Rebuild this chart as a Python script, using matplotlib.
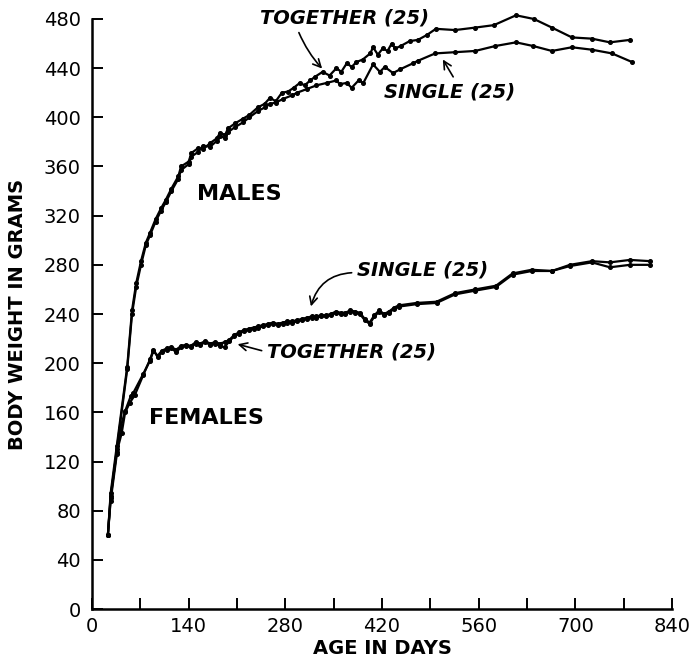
import matplotlib.pyplot as plt
from matplotlib.ticker import MultipleLocator

# body weight (grams) against age (days), four groups of 25 animals
male_together_days = [23, 27, 36, 51, 58, 64, 71, 78, 84, 92, 100, 107, 115, 125, 129, 140,
                      144, 154, 161, 171, 181, 185, 193, 197, 207, 219, 228, 240, 250, 258,
                      266, 275, 284, 292, 301, 308, 316, 323, 334, 344, 354, 361, 369, 376,
                      383, 392, 403, 407, 414, 421, 428, 434, 439, 447, 460, 472, 485, 498,
                      526, 555, 582, 614, 640, 666, 695, 724, 750, 779]
male_together_wt = [60, 94, 133, 197, 243, 265, 283, 298, 306, 317, 326, 333, 342, 352, 360, 364,
                    371, 375, 374, 379, 383, 387, 386, 391, 395, 399, 402, 408, 411, 416,
                    413, 420, 421, 424, 428, 426, 430, 433, 437, 434, 440, 437, 444, 441,
                    445, 447, 452, 457, 451, 456, 454, 460, 456, 458, 462, 463, 467, 472,
                    471, 473, 475, 483, 480, 473, 465, 464, 461, 463]

male_single_days = [23, 27, 36, 51, 58, 64, 71, 78, 84, 92, 100, 107, 115, 125, 129, 140,
                    144, 154, 161, 171, 181, 185, 193, 197, 207, 219, 228, 240, 250, 258,
                    266, 277, 290, 297, 311, 325, 340, 354, 359, 369, 376, 386, 393, 407,
                    417, 424, 436, 446, 465, 472, 497, 526, 555, 584, 614, 639, 666, 695,
                    724, 753, 782]
male_single_wt = [60, 90, 130, 195, 240, 262, 280, 296, 304, 315, 324, 331, 340, 350, 357, 362,
                  368, 372, 377, 376, 381, 385, 383, 388, 392, 396, 400, 405, 408, 411,
                  412, 415, 418, 420, 423, 426, 428, 430, 427, 428, 424, 430, 428, 443,
                  437, 441, 436, 439, 444, 446, 452, 453, 454, 458, 461, 458, 454, 457,
                  455, 452, 445]

female_together_days = [23, 27, 36, 43, 48, 55, 62, 74, 84, 89, 95, 101, 108, 115, 122, 129,
                        136, 143, 150, 157, 164, 171, 178, 185, 192, 199, 206, 213, 220, 227,
                        234, 241, 248, 255, 262, 269, 276, 283, 290, 297, 304, 311, 318, 325,
                        332, 339, 346, 353, 360, 367, 374, 381, 388, 395, 402, 409, 416, 423,
                        430, 437, 444, 470, 499, 526, 555, 585, 609, 637, 666, 692, 724, 750,
                        779, 808]
female_together_wt = [60, 92, 128, 143, 160, 168, 174, 190, 203, 211, 205, 209, 211, 212, 209, 213,
                      214, 213, 216, 215, 217, 215, 216, 214, 213, 218, 222, 224, 226, 227,
                      228, 229, 230, 231, 232, 231, 232, 233, 233, 234, 235, 236, 237, 237,
                      238, 238, 239, 241, 240, 240, 242, 241, 240, 235, 232, 238, 242, 239,
                      241, 244, 246, 248, 249, 256, 259, 262, 272, 275, 275, 279, 282, 278,
                      280, 280]

female_single_days = [23, 27, 36, 41, 48, 56, 60, 74, 84, 89, 95, 101, 108, 115, 122, 129,
                      136, 143, 150, 157, 164, 171, 178, 185, 192, 199, 206, 213, 220, 227,
                      234, 241, 248, 255, 262, 269, 276, 283, 290, 297, 304, 311, 318, 325,
                      332, 339, 346, 353, 360, 367, 374, 381, 388, 395, 402, 409, 416, 423,
                      430, 437, 444, 470, 499, 526, 555, 585, 609, 637, 666, 692, 724, 750,
                      779, 808]
female_single_wt = [60, 88, 126, 147, 161, 173, 176, 191, 202, 210, 206, 210, 212, 213, 211, 214,
                    215, 214, 217, 216, 218, 216, 217, 216, 217, 219, 223, 225, 227, 228,
                    229, 230, 231, 232, 233, 232, 233, 234, 234, 235, 236, 237, 238, 238,
                    239, 239, 240, 242, 241, 241, 243, 242, 241, 236, 233, 239, 243, 240,
                    242, 245, 247, 249, 250, 257, 260, 263, 273, 276, 275, 280, 283, 282,
                    284, 283]

x_ticks = [0, 140, 280, 420, 560, 700, 840]
y_ticks = list(range(0, 481, 40))

fig = plt.figure(figsize=(6.9, 6.64), dpi=100)
ax = fig.add_axes([0.1333, 0.0828, 0.8407, 0.8886])

style = dict(color="black", lw=1.6, marker="o", ms=2.6, clip_on=False)
ax.plot(male_together_days, male_together_wt, **style)
ax.plot(male_single_days, male_single_wt, **style)
ax.plot(female_together_days, female_together_wt, **style)
ax.plot(female_single_days, female_single_wt, **style)

ax.set_xlim(0, 840)
ax.set_ylim(0, 480)
ax.set_xticks(x_ticks)
ax.set_yticks(y_ticks)
ax.xaxis.set_minor_locator(MultipleLocator(70))
ax.tick_params(which="both", direction="in", length=8, width=1.4, labelsize=14, pad=6)
ax.tick_params(axis="y", pad=8)
for side in ("top", "right"):
    ax.spines[side].set_visible(False)
for side in ("left", "bottom"):
    ax.spines[side].set_linewidth(1.8)

ax.set_xlabel("AGE IN DAYS", fontsize=14, fontweight="bold", labelpad=2)
ax.set_ylabel("BODY WEIGHT IN GRAMS", fontsize=14, fontweight="bold", labelpad=12)

lab = dict(fontsize=14, fontweight="bold", fontstyle="italic", ha="center", va="center")
arrow = dict(arrowstyle="->", color="black", lw=1.2, mutation_scale=14)

ax.text(214, 338, "MALES", fontsize=16, fontweight="bold", ha="center", va="center")
ax.text(166, 155, "FEMALES", fontsize=16, fontweight="bold", ha="center", va="center")

ax.annotate("TOGETHER (25)", xy=(336, 438), xytext=(365, 481), **lab,
            arrowprops=dict(**arrow, relpos=(0.22, 0.0), connectionstyle="arc3,rad=0.1"))
ax.annotate("SINGLE (25)", xy=(506, 449), xytext=(518, 421), **lab,
            arrowprops=dict(**arrow, relpos=(0.55, 1.0)))
ax.annotate("SINGLE (25)", xy=(316, 244), xytext=(479, 276), **lab,
            arrowprops=dict(**arrow, relpos=(0.0, 0.35), connectionstyle="arc3,rad=0.4"))
ax.annotate("TOGETHER (25)", xy=(207, 216), xytext=(376, 209), **lab,
            arrowprops=dict(**arrow, relpos=(0.0, 0.5), connectionstyle="arc3,rad=0"))

fig.savefig("out.png", dpi=100)
